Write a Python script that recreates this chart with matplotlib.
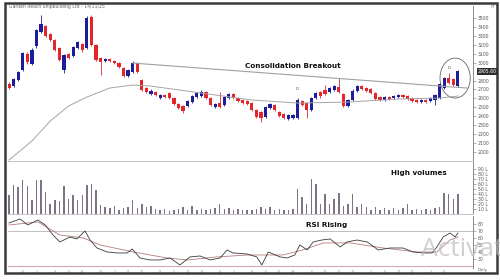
import matplotlib
matplotlib.use("Agg")
import matplotlib.pyplot as plt
from matplotlib.patches import Rectangle, Ellipse

# ---------------- data ----------------
opens = [2761, 2738, 2806, 2918, 3097, 2985, 3186, 3343, 3410, 3321,
         3254, 3164, 2918, 3097, 3074, 3164, 3209, 3164, 3511, 3198,
         3052, 3018, 3041, 3018, 2996, 2940, 2850, 2895, 2996, 2806,
         2716, 2649, 2671, 2604, 2638, 2660, 2604, 2537, 2514, 2514,
         2559, 2615, 2626, 2671, 2604, 2503, 2548, 2526, 2604, 2649,
         2604, 2582, 2570, 2548, 2470, 2447, 2391, 2492, 2526, 2447,
         2425, 2369, 2380, 2380, 2570, 2548, 2470, 2604, 2671, 2694,
         2671, 2694, 2727, 2649, 2514, 2582, 2683, 2738, 2716, 2705,
         2660, 2615, 2582, 2615, 2604, 2615, 2638, 2626, 2604, 2582,
         2559, 2582, 2570, 2582, 2604, 2716, 2828, 2817, 2738]
closes = [2716, 2817, 2895, 3108, 3007, 3142, 3366, 3433, 3298, 3254,
          3142, 3030, 3086, 3052, 3175, 3232, 3142, 3500, 3198, 3030,
          3007, 3041, 3018, 2996, 2951, 2850, 2918, 2996, 2895, 2694,
          2671, 2683, 2638, 2638, 2615, 2604, 2537, 2492, 2458, 2570,
          2626, 2660, 2671, 2604, 2526, 2537, 2503, 2615, 2649, 2604,
          2570, 2548, 2537, 2470, 2391, 2380, 2503, 2537, 2470, 2402,
          2380, 2414, 2414, 2582, 2526, 2470, 2604, 2660, 2626, 2649,
          2716, 2738, 2671, 2514, 2582, 2683, 2738, 2705, 2683, 2660,
          2593, 2582, 2615, 2593, 2626, 2638, 2615, 2593, 2570, 2559,
          2582, 2559, 2604, 2638, 2761, 2828, 2772, 2750, 2905]
highs = [2780, 2830, 2910, 3120, 3115, 3160, 3380, 3534, 3425, 3335,
         3270, 3175, 3100, 3110, 3190, 3245, 3220, 3520, 3534, 3210,
         3065, 3055, 3055, 3030, 3010, 2955, 2930, 3015, 3010, 2820,
         2730, 2700, 2685, 2650, 2650, 2675, 2615, 2550, 2525, 2585,
         2640, 2675, 2690, 2685, 2615, 2550, 2671, 2630, 2665, 2660,
         2615, 2595, 2585, 2560, 2480, 2460, 2515, 2550, 2540, 2460,
         2440, 2425, 2425, 2600, 2585, 2560, 2620, 2675, 2685, 2750,
         2730, 2750, 2828, 2660, 2595, 2700, 2755, 2750, 2730, 2720,
         2670, 2625, 2630, 2625, 2640, 2650, 2650, 2640, 2615, 2595,
         2595, 2595, 2620, 2650, 2775, 2845, 2884, 2830, 2920]
lows = [2700, 2725, 2795, 2905, 2990, 2970, 3170, 3330, 3285, 3240,
        3130, 3015, 2884, 3040, 3060, 3150, 3125, 3150, 3185, 3015,
        2862, 3005, 3005, 2985, 2940, 2835, 2840, 2885, 2880, 2680,
        2655, 2635, 2625, 2590, 2600, 2590, 2525, 2480, 2436, 2500,
        2545, 2600, 2615, 2590, 2510, 2490, 2492, 2515, 2590, 2590,
        2555, 2535, 2525, 2455, 2375, 2335, 2380, 2480, 2455, 2390,
        2365, 2355, 2365, 2365, 2510, 2380, 2460, 2590, 2610, 2635,
        2660, 2680, 2660, 2500, 2500, 2570, 2670, 2690, 2670, 2645,
        2580, 2570, 2570, 2580, 2595, 2605, 2605, 2580, 2560, 2545,
        2545, 2545, 2560, 2526, 2590, 2705, 2760, 2735, 2725]
volumes_lakh = [38, 58, 55, 69, 56, 28, 69, 68, 45, 21,
                28, 27, 56, 31, 38, 28, 38, 58, 60, 48,
                18, 15, 12, 16, 8, 12, 14, 28, 12, 21,
                14, 16, 10, 8, 10, 6, 8, 10, 14, 8,
                16, 8, 10, 8, 10, 12, 21, 10, 12, 8,
                10, 8, 8, 8, 10, 14, 10, 14, 8, 10,
                8, 8, 10, 50, 35, 20, 71, 61, 20, 40,
                20, 30, 43, 16, 21, 40, 14, 20, 14, 8,
                14, 8, 12, 8, 12, 8, 12, 20, 8, 10,
                8, 10, 8, 12, 14, 43, 40, 30, 41]

ma_idx = [0, 5, 9, 13, 17, 22, 27, 31, 42, 53, 63, 74, 85, 94, 98]
ma_vals = [1910, 2123, 2347, 2515, 2615, 2716, 2750, 2738, 2660, 2582,
           2548, 2559, 2593, 2604, 2626]

trend_idx = [27, 100]
trend_vals = [2996, 2716]

rsi_idx = [0, 2.4, 4.1, 6.3, 7.9, 9.6, 11.1, 13.3, 14.8, 16.6, 17.7, 19.2,
           21.4, 23.6, 25.8, 26.9, 28.6, 30.8, 33, 35.2, 37.3, 39.5, 41.7,
           43.9, 46.1, 47.6, 48.9, 52, 54.1, 55.2, 56.6, 59.2, 60.7, 62.4,
           63.5, 65.1, 66.4, 68.3, 70.1, 72.3, 73.8, 76, 78.2, 80.6, 83.2,
           86, 88.2, 90.4, 92.4, 93.4, 94.8, 96.3, 97.4, 98]
rsi_vals = [81.4, 87.1, 78.6, 85.7, 78.6, 64.3, 54.3, 61.4, 58.6, 70, 57.1,
            45.7, 40, 38.6, 38.6, 44.3, 31.4, 28.6, 28.6, 31.4, 21.4, 32.9,
            34.3, 28.6, 31.4, 42.9, 38.6, 37.1, 32.9, 21.4, 40, 32.9, 31.4,
            35.7, 50, 42.9, 54.3, 57.1, 58.6, 47.1, 54.3, 57.1, 54.3, 42.9,
            45.7, 45.7, 40, 38.6, 38.6, 47.1, 61.4, 67.1, 61.4, 67.1]
sig_idx = [0, 6.3, 11.1, 16.2, 19.9, 27.1, 34.5, 38.9, 45.4, 52, 59.8,
           64.2, 68.6, 74.5, 81.7, 89.1, 93.4, 96.3, 98]
sig_vals = [78.6, 82.9, 64.3, 60, 50, 40, 31.4, 28.6, 32.9, 35.7, 35.7,
            42.9, 52.9, 52.9, 45.7, 40, 40, 57.1, 61.4]

price_ticks = [3500, 3400, 3300, 3200, 3100, 3000, 2800, 2700, 2600, 2500,
               2400, 2300, 2200, 2100, 2000]
vol_ticks = [10, 20, 30, 40, 50, 60, 70, 80, 90]
rsi_ticks = [30, 40, 50, 60, 70, 80]
date_tick_idx = [3, 6, 10, 13, 16, 20, 23, 26, 29, 33, 36, 39, 42, 46, 49,
                 53, 56, 59, 62, 66, 69, 72, 75, 79, 82, 85, 88, 92, 95]
date_labels = ["26", "2", "9", "16", "23", "30", "7", "14", "21", "28",
               "4", "11", "18", "25", "1", "8", "15", "22", "29", "6",
               "13", "20", "27", "3", "10", "17", "24", "3", "10"]
last_price_label = "2905.60"
title = "Garden Reach Shipbuilding Ltd - 14/11/25"

# ---------------- layout ----------------
W, H = 500, 280
fig = plt.figure(figsize=(W / 100, H / 100), dpi=100)
fig.patch.set_facecolor("white")


def rect(x0, y0, x1, y1):
    return [x0 / W, 1 - y1 / H, (x1 - x0) / W, (y1 - y0) / H]


XL = (-0.22, 101.3)
RED = "#e2262b"
BLUE = "#1d1d9a"
AXC = "#777777"
LBL = "#555555"

ax_p = fig.add_axes(rect(8, 6, 473, 161))
ax_v = fig.add_axes(rect(8, 162, 473, 214))
ax_r = fig.add_axes(rect(8, 216, 473, 268))

for ax in (ax_p, ax_v, ax_r):
    ax.set_xlim(*XL)
    ax.set_facecolor("none")
    for s in ("top", "left"):
        ax.spines[s].set_visible(False)
    ax.spines["right"].set_color(AXC)
    ax.spines["right"].set_linewidth(0.6)
    ax.spines["bottom"].set_color("#c4c4c4")
    ax.spines["bottom"].set_linewidth(0.7)
    ax.yaxis.tick_right()
    ax.tick_params(axis="y", length=2, width=0.4, color=AXC, labelsize=3.3,
                   labelcolor=LBL, pad=1.5)
    ax.tick_params(axis="x", length=0, labelbottom=False)

# price panel
ax_p.set_ylim(1899, 3635)
for i in range(len(opens)):
    o, c, h, l = opens[i], closes[i], highs[i], lows[i]
    col = BLUE if c >= o else RED
    ax_p.vlines(i, l, h, color=col, lw=0.6)
    ax_p.bar(i, max(abs(c - o), 6), bottom=min(o, c), width=0.7, color=col,
             linewidth=0)
ax_p.plot(ma_idx, ma_vals, color="#a5a5a5", lw=0.7)
ax_p.plot(trend_idx, trend_vals, color="#a0a0a0", lw=0.8, clip_on=False)
ax_p.add_patch(Ellipse((97.4, 2828), 6.6, 448, fill=False, ec="#666666",
                       lw=0.6, clip_on=False))
ax_p.set_yticks(price_ticks)
ax_p.set_yticklabels([str(t) for t in price_ticks])
ax_p.text(63, 2690, "D", fontsize=3, color="#555", ha="center")
ax_p.text(96, 2930, "D", fontsize=3, color="#555", ha="center")
ax_p.text(62, 2960, "Consolidation Breakout", fontsize=5.2,
          fontweight="bold", color="#111", ha="center", va="center")

# volume panel
ax_v.set_ylim(0, 104)
ax_v.bar(range(len(volumes_lakh)), volumes_lakh, width=0.32, color="#7e7287",
         linewidth=0)
ax_v.set_yticks(vol_ticks)
ax_v.set_yticklabels([f"{t} L" for t in vol_ticks])
ax_v.text(89.5, 82, "High volumes", fontsize=5.2, fontweight="bold",
          color="#111", ha="center", va="center")

# RSI panel
ax_r.set_ylim(17.1, 91.4)
ax_r.axhline(70, color="#c0c0c0", lw=0.7)
ax_r.axhline(20, color="#d2aaaa", lw=0.8)
ax_r.spines["bottom"].set_visible(False)
ax_r.plot(sig_idx, sig_vals, color="#b67c7c", lw=0.6)
ax_r.plot(rsi_idx, rsi_vals, color="#3a3a3a", lw=0.6)
ax_r.set_yticks(rsi_ticks)
ax_r.set_yticklabels([str(t) for t in rsi_ticks])
ax_r.set_xticks(date_tick_idx)
ax_r.set_xticklabels(date_labels)
ax_r.tick_params(axis="x", labelbottom=True, labelsize=2.4,
                 labelcolor="#9a9a9a", pad=1.2)
ax_r.text(69.4, 79, "RSI Rising", fontsize=5.2, fontweight="bold",
          color="#111", ha="center", va="center")

# texts around
fig.text(9 / W, 1 - 6.5 / H, title, fontsize=3.3, color="#666", va="center")
fig.text(491 / W, 1 - 7.5 / H, "FT", fontsize=2.8, color="#666", va="center")
fig.text(478 / W, 1 - 71.5 / H, last_price_label, fontsize=3.3, color="white",
         va="center", ha="left",
         bbox=dict(boxstyle="square,pad=0.25", fc="#2e2e2e", ec="none"))
fig.text(478 / W, 1 - 269.5 / H, "Daily", fontsize=2.8, color="#555",
         va="center")
fig.text(421 / W, 1 - 256 / H, "Activate", fontsize=19, color="#bcbcbc",
         alpha=0.7, family="Open Sans", va="baseline")

# outer frame
fig.patches.append(Rectangle((5 / W, 1 - 273 / H), 492 / W, 270 / H,
                             transform=fig.transFigure, fill=False,
                             ec="#3a3a3a", lw=1.8))

fig.savefig("out.png", dpi=100)
